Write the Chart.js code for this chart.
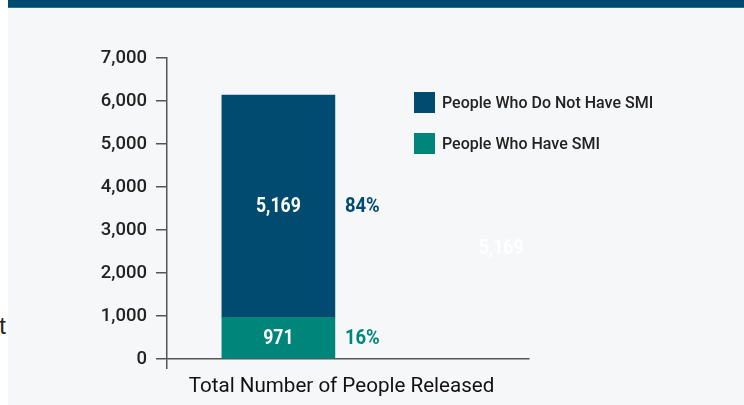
<!DOCTYPE html>
<html>
<head>
<meta charset="utf-8">
<script src="https://cdn.jsdelivr.net/npm/chart.js@4"></script>
<style>
  html, body { margin: 0; padding: 0; background: #ffffff; }
  #page { position: relative; width: 744px; height: 405px; overflow: hidden; }
  #panel { position: absolute; left: 8px; top: 0; width: 736px; height: 405px; background: #f6f7f9; }
  #band { position: absolute; left: 0; top: 0; width: 736px; height: 8px; background: #004a70; border-bottom: 1px solid #2f6f8e; box-sizing: border-box; }
  #chartBox { position: absolute; left: 0; top: 8px; width: 736px; height: 397px; }
  #edgeText { position: absolute; right: 738px; top: 312px; font: 24px 'Liberation Sans', sans-serif; color: #222; white-space: nowrap; }
</style>
</head>
<body>
<div id="page">
  <div id="edgeText">t</div>
  <div id="panel">
    <div id="band"></div>
    <div id="chartBox"><canvas id="releaseChart"></canvas></div>
  </div>
</div>
<script>
// 釈放者数の内訳
const categoryTitle = 'Total Number of People Released';
const seriesLabels = ['People Who Have SMI', 'People Who Do Not Have SMI'];
const seriesColors = ['#00857a', '#004b6f'];
const withSmi = [971];
const withoutSmi = [5169];
const barSlots = [1];
const ghostSlot = [3];
const ghostValue = [5169];
const yTicks = [0, 1000, 2000, 3000, 4000, 5000, 6000, 7000];

const FONT = "Roboto, 'Liberation Sans', sans-serif";
const AXIS = '#555555';

const total = withSmi[0] + withoutSmi[0];

// 横に詰めた文字を描く
function narrowText(ctx, text, x, y, align, sx) {
    ctx.save();
    ctx.translate(x, y);
    ctx.scale(sx, 1);
    ctx.textAlign = align;
    ctx.fillText(text, 0, 0);
    ctx.restore();
}

// バー上の数値と割合
const barLabelPlugin = {
    id: 'barLabels',
    afterDatasetsDraw(chart) {
        const { ctx } = chart;
        ctx.save();
        ctx.textBaseline = 'middle';
        ctx.font = 'bold 21px ' + FONT;
        chart.data.datasets.forEach((ds, i) => {
            const meta = chart.getDatasetMeta(i);
            meta.data.forEach((bar, j) => {
                const value = ds.data[j].y;
                const midY = (bar.y + bar.base) / 2 + 1;
                ctx.fillStyle = '#ffffff';
                narrowText(ctx, value.toLocaleString('en-US'), bar.x, midY, 'center', 0.84);
                if (ds.showPercent) {
                    const pct = Math.round(value / total * 100);
                    ctx.fillStyle = ds.backgroundColor;
                    narrowText(ctx, pct + '%', bar.x + bar.width / 2 + 10, midY, 'left', 0.88);
                }
            });
        });
        ctx.restore();
    }
};

// 凡例（グラフ内右上）と x 軸タイトル
const sideLegendPlugin = {
    id: 'sideLegend',
    afterDraw(chart) {
        const { ctx, chartArea } = chart;
        const x = chartArea.left + 247;
        let y = chartArea.top + 34;
        const items = [1, 0];
        ctx.save();
        ctx.font = '500 16.5px ' + FONT;
        ctx.textBaseline = 'middle';
        items.forEach(i => {
            ctx.fillStyle = seriesColors[i];
            ctx.fillRect(x, y, 21, 21);
            ctx.fillStyle = '#222222';
            narrowText(ctx, seriesLabels[i], x + 28, y + 11.5, 'left', 0.97);
            y += 41;
        });

        // 軸線の左端（目盛りの交点）から右端までの中央に置く
        ctx.font = '21px ' + FONT;
        ctx.fillStyle = '#111111';
        ctx.textBaseline = 'alphabetic';
        const cx = (chartArea.left - 13 + chartArea.right) / 2;
        narrowText(ctx, categoryTitle, cx, chartArea.bottom + 33, 'center', 0.98);
        ctx.restore();
    }
};

const ctx = document.getElementById('releaseChart').getContext('2d');

new Chart(ctx, {
    type: 'bar',
    data: {
        datasets: [
            {
                label: seriesLabels[0],
                data: barSlots.map((s, i) => ({ x: s, y: withSmi[i] })),
                backgroundColor: seriesColors[0],
                showPercent: true
            },
            {
                label: seriesLabels[1],
                data: barSlots.map((s, i) => ({ x: s, y: withoutSmi[i] })),
                backgroundColor: seriesColors[1],
                showPercent: true
            },
            {
                label: '',
                data: ghostSlot.map((s, i) => ({ x: s, y: ghostValue[i] })),
                backgroundColor: 'rgba(0,0,0,0)',
                showPercent: false
            }
        ]
    },
    plugins: [barLabelPlugin, sideLegendPlugin],
    options: {
        responsive: true,
        maintainAspectRatio: false,
        animation: false,
        layout: { padding: { top: 50, right: 215, bottom: 36, left: 0 } },
        datasets: { bar: { grouped: false, barThickness: 113, borderWidth: 0 } },
        plugins: {
            legend: { display: false },
            tooltip: { enabled: false }
        },
        scales: {
            x: {
                type: 'linear',
                offset: false,
                min: 0,
                max: 3.25,
                afterBuildTicks: (scale) => { scale.ticks = [{ value: 0 }]; },
                ticks: { display: false },
                grid: { offset: false, drawOnChartArea: false, drawTicks: true, tickLength: 10, color: AXIS, lineWidth: 1.5 },
                border: { display: true, color: AXIS, width: 1.5 },
                title: { display: false }
            },
            y: {
                stacked: true,
                min: 0,
                max: 7000,
                afterBuildTicks: (scale) => { scale.ticks = yTicks.map(v => ({ value: v })); },
                afterFit: (scale) => { scale.width = 159; },
                ticks: {
                    color: '#222222',
                    font: { family: FONT, size: 18.5, weight: '500' },
                    padding: 9,
                    callback: (v) => Number(v).toLocaleString('en-US')
                },
                grid: { drawOnChartArea: false, drawTicks: true, tickLength: 11, color: AXIS, lineWidth: 1.5 },
                border: { display: true, color: AXIS, width: 1.5 }
            }
        }
    }
});
</script>
</body>
</html>
